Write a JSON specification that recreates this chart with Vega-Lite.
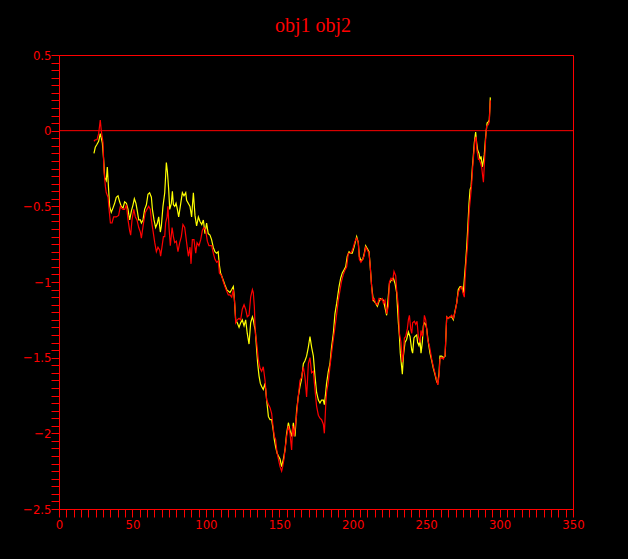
{
  "$schema": "https://vega.github.io/schema/vega-lite/v6.json",
  "width": 514,
  "height": 454,
  "autosize": "none",
  "padding": {"left": 59, "top": 55, "right": 55, "bottom": 50},
  "background": "#000000",
  "title": {"text": "obj1 obj2", "color": "#ff0000", "font": "Liberation Serif", "fontSize": 20, "fontWeight": "normal", "anchor": "middle", "baseline": "alphabetic", "offset": -3, "dx": -3},
  "datasets": {
    "obj1": [
      {"x":23.8,"y":-0.07},{"x":24.7,"y":-0.06},{"x":25.9,"y":-0.06},{"x":27.0,"y":-0.02},{"x":28.1,"y":0.07},{"x":28.8,"y":0.0},{"x":30.0,"y":-0.08},{"x":30.6,"y":-0.26},{"x":31.6,"y":-0.37},{"x":32.2,"y":-0.41},{"x":33.4,"y":-0.44},{"x":34.1,"y":-0.52},{"x":35.0,"y":-0.61},{"x":36.1,"y":-0.61},{"x":37.2,"y":-0.57},{"x":39.0,"y":-0.57},{"x":40.6,"y":-0.56},{"x":41.8,"y":-0.50},{"x":42.4,"y":-0.51},{"x":43.6,"y":-0.52},{"x":44.7,"y":-0.52},{"x":45.9,"y":-0.49},{"x":47.0,"y":-0.59},{"x":48.1,"y":-0.66},{"x":48.8,"y":-0.69},{"x":49.7,"y":-0.59},{"x":50.9,"y":-0.52},{"x":52.0,"y":-0.57},{"x":53.1,"y":-0.59},{"x":54.3,"y":-0.64},{"x":55.4,"y":-0.67},{"x":56.1,"y":-0.71},{"x":56.8,"y":-0.66},{"x":57.9,"y":-0.59},{"x":58.8,"y":-0.54},{"x":59.9,"y":-0.52},{"x":61.1,"y":-0.50},{"x":62.2,"y":-0.52},{"x":62.9,"y":-0.59},{"x":64.0,"y":-0.66},{"x":65.2,"y":-0.74},{"x":66.3,"y":-0.80},{"x":67.4,"y":-0.77},{"x":68.6,"y":-0.79},{"x":69.2,"y":-0.83},{"x":70.1,"y":-0.77},{"x":71.1,"y":-0.70},{"x":72.0,"y":-0.70},{"x":72.6,"y":-0.61},{"x":73.6,"y":-0.57},{"x":74.2,"y":-0.50},{"x":74.9,"y":-0.64},{"x":75.8,"y":-0.76},{"x":77.0,"y":-0.64},{"x":77.9,"y":-0.70},{"x":78.8,"y":-0.74},{"x":79.9,"y":-0.73},{"x":81.0,"y":-0.80},{"x":82.2,"y":-0.74},{"x":83.3,"y":-0.70},{"x":84.4,"y":-0.62},{"x":85.6,"y":-0.64},{"x":86.9,"y":-0.74},{"x":88.1,"y":-0.83},{"x":89.2,"y":-0.77},{"x":89.9,"y":-0.88},{"x":90.8,"y":-0.72},{"x":91.9,"y":-0.72},{"x":93.1,"y":-0.81},{"x":94.0,"y":-0.74},{"x":95.3,"y":-0.76},{"x":96.5,"y":-0.72},{"x":97.6,"y":-0.66},{"x":98.7,"y":-0.64},{"x":99.9,"y":-0.66},{"x":101.0,"y":-0.73},{"x":102.1,"y":-0.76},{"x":104.0,"y":-0.76},{"x":105.1,"y":-0.81},{"x":106.2,"y":-0.85},{"x":107.4,"y":-0.87},{"x":108.5,"y":-0.86},{"x":109.2,"y":-0.94},{"x":110.8,"y":-0.96},{"x":111.9,"y":-1.00},{"x":113.0,"y":-1.03},{"x":114.2,"y":-1.06},{"x":115.3,"y":-1.085},{"x":116.4,"y":-1.085},{"x":117.6,"y":-1.10},{"x":118.7,"y":-1.05},{"x":119.4,"y":-1.11},{"x":119.9,"y":-1.18},{"x":120.3,"y":-1.27},{"x":121.4,"y":-1.25},{"x":122.6,"y":-1.24},{"x":123.7,"y":-1.25},{"x":124.8,"y":-1.18},{"x":126.0,"y":-1.15},{"x":127.1,"y":-1.18},{"x":128.2,"y":-1.23},{"x":129.4,"y":-1.22},{"x":130.5,"y":-1.10},{"x":131.7,"y":-1.05},{"x":132.3,"y":-1.07},{"x":133.0,"y":-1.16},{"x":133.7,"y":-1.34},{"x":134.6,"y":-1.40},{"x":135.7,"y":-1.51},{"x":136.9,"y":-1.57},{"x":138.0,"y":-1.59},{"x":139.1,"y":-1.56},{"x":140.3,"y":-1.65},{"x":141.4,"y":-1.78},{"x":142.6,"y":-1.81},{"x":143.7,"y":-1.83},{"x":144.8,"y":-1.87},{"x":145.7,"y":-1.95},{"x":146.6,"y":-2.02},{"x":147.5,"y":-2.04},{"x":148.5,"y":-2.13},{"x":149.4,"y":-2.17},{"x":150.5,"y":-2.22},{"x":151.6,"y":-2.25},{"x":152.3,"y":-2.22},{"x":153.2,"y":-2.17},{"x":153.9,"y":-2.11},{"x":155.0,"y":-2.02},{"x":156.2,"y":-1.95},{"x":157.3,"y":-2.00},{"x":158.4,"y":-2.11},{"x":159.1,"y":-1.95},{"x":160.0,"y":-2.02},{"x":161.8,"y":-1.88},{"x":162.9,"y":-1.76},{"x":164.1,"y":-1.65},{"x":165.2,"y":-1.63},{"x":166.4,"y":-1.56},{"x":167.5,"y":-1.63},{"x":168.6,"y":-1.76},{"x":169.8,"y":-1.54},{"x":170.9,"y":-1.50},{"x":172.0,"y":-1.60},{"x":173.2,"y":-1.59},{"x":174.3,"y":-1.71},{"x":175.4,"y":-1.82},{"x":176.6,"y":-1.88},{"x":177.7,"y":-1.90},{"x":178.8,"y":-1.91},{"x":180.0,"y":-1.94},{"x":180.7,"y":-2.00},{"x":181.6,"y":-1.82},{"x":182.2,"y":-1.73},{"x":183.4,"y":-1.66},{"x":184.5,"y":-1.56},{"x":185.6,"y":-1.47},{"x":186.8,"y":-1.38},{"x":187.9,"y":-1.30},{"x":189.1,"y":-1.21},{"x":190.2,"y":-1.12},{"x":191.4,"y":-1.05},{"x":192.5,"y":-0.99},{"x":193.6,"y":-0.95},{"x":194.8,"y":-0.92},{"x":195.9,"y":-0.90},{"x":197.0,"y":-0.81},{"x":198.2,"y":-0.81},{"x":199.3,"y":-0.80},{"x":200.4,"y":-0.77},{"x":201.6,"y":-0.73},{"x":202.7,"y":-0.71},{"x":203.8,"y":-0.74},{"x":204.5,"y":-0.85},{"x":205.6,"y":-0.87},{"x":206.8,"y":-0.85},{"x":207.7,"y":-0.83},{"x":208.8,"y":-0.77},{"x":210.0,"y":-0.79},{"x":211.1,"y":-0.81},{"x":211.8,"y":-0.88},{"x":212.9,"y":-1.03},{"x":213.6,"y":-1.12},{"x":214.7,"y":-1.11},{"x":215.6,"y":-1.14},{"x":216.8,"y":-1.15},{"x":217.9,"y":-1.11},{"x":219.0,"y":-1.12},{"x":220.2,"y":-1.11},{"x":220.9,"y":-1.14},{"x":222.0,"y":-1.12},{"x":223.1,"y":-1.21},{"x":224.3,"y":-1.16},{"x":225.0,"y":-1.00},{"x":226.1,"y":-0.975},{"x":227.2,"y":-0.99},{"x":228.1,"y":-0.93},{"x":229.3,"y":-0.96},{"x":229.9,"y":-1.05},{"x":231.1,"y":-1.16},{"x":231.8,"y":-1.34},{"x":232.9,"y":-1.40},{"x":233.8,"y":-1.53},{"x":234.5,"y":-1.47},{"x":235.2,"y":-1.37},{"x":236.1,"y":-1.36},{"x":237.2,"y":-1.31},{"x":237.9,"y":-1.25},{"x":238.6,"y":-1.22},{"x":239.5,"y":-1.31},{"x":240.2,"y":-1.34},{"x":240.8,"y":-1.27},{"x":242.0,"y":-1.26},{"x":242.9,"y":-1.28},{"x":243.8,"y":-1.26},{"x":244.7,"y":-1.36},{"x":245.8,"y":-1.40},{"x":246.5,"y":-1.32},{"x":247.4,"y":-1.36},{"x":248.1,"y":-1.32},{"x":248.8,"y":-1.22},{"x":249.7,"y":-1.25},{"x":250.4,"y":-1.31},{"x":251.0,"y":-1.38},{"x":252.2,"y":-1.42},{"x":253.1,"y":-1.47},{"x":253.8,"y":-1.51},{"x":254.9,"y":-1.56},{"x":256.0,"y":-1.60},{"x":257.2,"y":-1.65},{"x":257.9,"y":-1.68},{"x":258.8,"y":-1.62},{"x":259.4,"y":-1.51},{"x":260.6,"y":-1.50},{"x":261.7,"y":-1.51},{"x":262.9,"y":-1.48},{"x":263.5,"y":-1.35},{"x":264.0,"y":-1.23},{"x":265.1,"y":-1.24},{"x":266.3,"y":-1.23},{"x":267.4,"y":-1.22},{"x":268.5,"y":-1.24},{"x":269.7,"y":-1.20},{"x":270.8,"y":-1.14},{"x":271.9,"y":-1.07},{"x":273.1,"y":-1.04},{"x":274.2,"y":-1.03},{"x":275.3,"y":-1.08},{"x":276.0,"y":-1.10},{"x":276.5,"y":-0.98},{"x":277.2,"y":-0.87},{"x":278.1,"y":-0.77},{"x":278.7,"y":-0.65},{"x":279.4,"y":-0.52},{"x":280.3,"y":-0.43},{"x":281.0,"y":-0.35},{"x":281.7,"y":-0.24},{"x":282.6,"y":-0.13},{"x":283.3,"y":-0.06},{"x":284.0,"y":-0.04},{"x":284.6,"y":-0.13},{"x":285.6,"y":-0.19},{"x":286.2,"y":-0.19},{"x":286.9,"y":-0.21},{"x":287.8,"y":-0.24},{"x":288.5,"y":-0.30},{"x":289.0,"y":-0.34},{"x":289.6,"y":-0.23},{"x":290.5,"y":-0.06},{"x":291.2,"y":0.03},{"x":292.4,"y":0.04},{"x":293.0,"y":0.06},{"x":293.7,"y":0.20}
    ],
    "obj2": [
      {"x":23.8,"y":-0.15},{"x":24.7,"y":-0.11},{"x":25.9,"y":-0.09},{"x":27.0,"y":-0.07},{"x":28.1,"y":-0.02},{"x":28.8,"y":-0.05},{"x":29.5,"y":-0.08},{"x":30.4,"y":-0.19},{"x":31.1,"y":-0.31},{"x":32.2,"y":-0.33},{"x":32.9,"y":-0.24},{"x":33.8,"y":-0.39},{"x":34.5,"y":-0.50},{"x":35.6,"y":-0.54},{"x":36.8,"y":-0.51},{"x":37.9,"y":-0.48},{"x":39.0,"y":-0.44},{"x":40.2,"y":-0.43},{"x":41.3,"y":-0.47},{"x":42.4,"y":-0.50},{"x":43.6,"y":-0.51},{"x":44.7,"y":-0.47},{"x":45.9,"y":-0.48},{"x":47.0,"y":-0.52},{"x":48.1,"y":-0.59},{"x":49.3,"y":-0.53},{"x":50.4,"y":-0.49},{"x":51.3,"y":-0.45},{"x":52.4,"y":-0.48},{"x":53.3,"y":-0.53},{"x":54.3,"y":-0.59},{"x":55.4,"y":-0.59},{"x":56.1,"y":-0.61},{"x":57.2,"y":-0.59},{"x":58.3,"y":-0.52},{"x":59.5,"y":-0.49},{"x":60.6,"y":-0.42},{"x":61.7,"y":-0.41},{"x":62.9,"y":-0.44},{"x":63.6,"y":-0.52},{"x":64.7,"y":-0.59},{"x":65.8,"y":-0.64},{"x":67.0,"y":-0.61},{"x":67.9,"y":-0.57},{"x":69.0,"y":-0.67},{"x":69.7,"y":-0.63},{"x":70.8,"y":-0.50},{"x":72.0,"y":-0.41},{"x":73.1,"y":-0.21},{"x":73.8,"y":-0.27},{"x":74.7,"y":-0.39},{"x":75.4,"y":-0.52},{"x":76.5,"y":-0.48},{"x":77.2,"y":-0.40},{"x":77.9,"y":-0.49},{"x":78.8,"y":-0.50},{"x":79.7,"y":-0.48},{"x":80.6,"y":-0.52},{"x":81.5,"y":-0.57},{"x":82.9,"y":-0.48},{"x":84.0,"y":-0.41},{"x":85.1,"y":-0.43},{"x":86.3,"y":-0.41},{"x":86.9,"y":-0.46},{"x":89.2,"y":-0.50},{"x":90.3,"y":-0.57},{"x":91.5,"y":-0.41},{"x":92.6,"y":-0.56},{"x":93.7,"y":-0.63},{"x":94.9,"y":-0.57},{"x":96.0,"y":-0.60},{"x":97.2,"y":-0.62},{"x":98.3,"y":-0.59},{"x":99.4,"y":-0.68},{"x":100.5,"y":-0.61},{"x":101.6,"y":-0.68},{"x":102.8,"y":-0.69},{"x":103.9,"y":-0.72},{"x":105.0,"y":-0.77},{"x":106.2,"y":-0.80},{"x":107.3,"y":-0.81},{"x":108.4,"y":-0.80},{"x":109.1,"y":-0.88},{"x":110.0,"y":-0.94},{"x":110.8,"y":-0.96},{"x":111.9,"y":-0.99},{"x":113.0,"y":-1.02},{"x":114.2,"y":-1.05},{"x":115.3,"y":-1.06},{"x":116.4,"y":-1.07},{"x":117.6,"y":-1.05},{"x":118.7,"y":-1.03},{"x":119.4,"y":-1.11},{"x":120.3,"y":-1.25},{"x":121.4,"y":-1.27},{"x":122.6,"y":-1.30},{"x":123.7,"y":-1.27},{"x":124.8,"y":-1.25},{"x":126.0,"y":-1.29},{"x":127.1,"y":-1.25},{"x":128.2,"y":-1.34},{"x":129.4,"y":-1.41},{"x":130.5,"y":-1.27},{"x":131.7,"y":-1.23},{"x":132.3,"y":-1.25},{"x":133.0,"y":-1.29},{"x":133.7,"y":-1.32},{"x":134.6,"y":-1.45},{"x":135.3,"y":-1.54},{"x":136.2,"y":-1.62},{"x":137.1,"y":-1.67},{"x":138.0,"y":-1.69},{"x":139.1,"y":-1.71},{"x":140.3,"y":-1.67},{"x":141.4,"y":-1.78},{"x":142.6,"y":-1.89},{"x":143.7,"y":-1.91},{"x":144.8,"y":-1.91},{"x":145.9,"y":-1.98},{"x":146.6,"y":-2.04},{"x":147.5,"y":-2.09},{"x":148.5,"y":-2.13},{"x":149.4,"y":-2.15},{"x":150.5,"y":-2.17},{"x":151.6,"y":-2.22},{"x":152.8,"y":-2.17},{"x":153.9,"y":-2.11},{"x":155.0,"y":-2.00},{"x":156.2,"y":-1.93},{"x":157.3,"y":-1.98},{"x":158.4,"y":-2.02},{"x":159.6,"y":-1.93},{"x":160.7,"y":-2.02},{"x":161.8,"y":-1.85},{"x":162.9,"y":-1.76},{"x":164.1,"y":-1.69},{"x":165.2,"y":-1.64},{"x":166.4,"y":-1.54},{"x":167.5,"y":-1.52},{"x":168.6,"y":-1.49},{"x":169.8,"y":-1.43},{"x":170.9,"y":-1.36},{"x":172.0,"y":-1.43},{"x":173.2,"y":-1.49},{"x":174.3,"y":-1.62},{"x":175.4,"y":-1.73},{"x":176.6,"y":-1.78},{"x":177.7,"y":-1.80},{"x":178.8,"y":-1.78},{"x":180.0,"y":-1.78},{"x":180.7,"y":-1.81},{"x":181.6,"y":-1.73},{"x":182.2,"y":-1.67},{"x":183.4,"y":-1.59},{"x":184.5,"y":-1.54},{"x":185.6,"y":-1.43},{"x":186.8,"y":-1.34},{"x":187.9,"y":-1.21},{"x":189.1,"y":-1.14},{"x":190.7,"y":-1.03},{"x":191.8,"y":-0.975},{"x":192.9,"y":-0.94},{"x":194.1,"y":-0.92},{"x":195.2,"y":-0.90},{"x":196.3,"y":-0.83},{"x":197.5,"y":-0.80},{"x":198.6,"y":-0.81},{"x":199.7,"y":-0.81},{"x":200.9,"y":-0.77},{"x":202.7,"y":-0.70},{"x":203.8,"y":-0.74},{"x":204.5,"y":-0.83},{"x":205.6,"y":-0.86},{"x":206.8,"y":-0.85},{"x":207.7,"y":-0.82},{"x":208.8,"y":-0.76},{"x":210.0,"y":-0.78},{"x":211.1,"y":-0.80},{"x":211.8,"y":-0.88},{"x":212.9,"y":-1.03},{"x":214.0,"y":-1.12},{"x":215.6,"y":-1.14},{"x":216.8,"y":-1.16},{"x":218.6,"y":-1.11},{"x":220.9,"y":-1.12},{"x":223.1,"y":-1.22},{"x":225.0,"y":-1.01},{"x":226.1,"y":-0.99},{"x":227.7,"y":-0.975},{"x":228.8,"y":-1.01},{"x":229.9,"y":-1.07},{"x":231.1,"y":-1.27},{"x":231.8,"y":-1.36},{"x":232.4,"y":-1.47},{"x":233.3,"y":-1.56},{"x":233.8,"y":-1.61},{"x":234.5,"y":-1.49},{"x":235.6,"y":-1.40},{"x":236.7,"y":-1.38},{"x":237.9,"y":-1.33},{"x":239.0,"y":-1.36},{"x":240.2,"y":-1.45},{"x":240.8,"y":-1.47},{"x":241.7,"y":-1.37},{"x":242.4,"y":-1.36},{"x":243.6,"y":-1.35},{"x":244.2,"y":-1.40},{"x":245.1,"y":-1.42},{"x":245.8,"y":-1.38},{"x":246.5,"y":-1.47},{"x":247.4,"y":-1.40},{"x":248.1,"y":-1.29},{"x":248.8,"y":-1.27},{"x":249.7,"y":-1.28},{"x":250.4,"y":-1.31},{"x":251.5,"y":-1.40},{"x":252.6,"y":-1.47},{"x":253.8,"y":-1.52},{"x":254.9,"y":-1.57},{"x":256.0,"y":-1.61},{"x":257.2,"y":-1.66},{"x":257.9,"y":-1.67},{"x":258.8,"y":-1.60},{"x":259.4,"y":-1.49},{"x":260.6,"y":-1.49},{"x":261.7,"y":-1.50},{"x":262.9,"y":-1.49},{"x":264.0,"y":-1.23},{"x":265.1,"y":-1.24},{"x":266.3,"y":-1.23},{"x":267.4,"y":-1.23},{"x":268.5,"y":-1.25},{"x":269.7,"y":-1.19},{"x":270.8,"y":-1.14},{"x":271.9,"y":-1.05},{"x":273.1,"y":-1.03},{"x":274.2,"y":-1.03},{"x":275.3,"y":-1.07},{"x":276.0,"y":-0.98},{"x":276.9,"y":-0.87},{"x":277.6,"y":-0.77},{"x":278.3,"y":-0.65},{"x":279.2,"y":-0.48},{"x":279.9,"y":-0.39},{"x":280.6,"y":-0.37},{"x":281.5,"y":-0.24},{"x":282.1,"y":-0.17},{"x":282.8,"y":-0.08},{"x":283.7,"y":-0.01},{"x":284.4,"y":-0.08},{"x":285.1,"y":-0.13},{"x":286.0,"y":-0.15},{"x":286.7,"y":-0.19},{"x":287.4,"y":-0.17},{"x":288.3,"y":-0.24},{"x":289.0,"y":-0.20},{"x":289.6,"y":-0.16},{"x":290.5,"y":-0.04},{"x":291.5,"y":0.05},{"x":292.4,"y":0.06},{"x":293.0,"y":0.07},{"x":293.7,"y":0.22}
    ]
  },
  "config": {
    "view": {"stroke": "#ff0000", "strokeWidth": 1},
    "axis": {"domainColor": "#ff0000", "tickColor": "#ff0000", "labelColor": "#ff0000", "grid": false, "labelFont": "Liberation Sans Narrow, DejaVu Sans Condensed, Liberation Sans", "labelFontSize": 13, "labelFontWeight": "normal", "tickWidth": 1, "domainWidth": 1, "labelOverlap": false, "labelFlush": false}
  },
  "resolve": {"axis": {"x": "independent", "y": "independent"}},
  "layer": [
    {
      "data": {"values": [{"zero": 0}]},
      "mark": {"type": "rule", "color": "#ff0000", "strokeWidth": 1},
      "encoding": {
        "y": {"field": "zero", "type": "quantitative", "axis": null, "scale": {"domain": [-2.5, 0.5], "nice": false, "zero": false}}
      }
    },
    {
      "data": {"name": "obj2"},
      "mark": {"type": "line", "color": "#ffff00", "strokeWidth": 1.2},
      "encoding": {
        "x": {"field": "x", "type": "quantitative", "scale": {"domain": [0, 350], "nice": false, "zero": false},
          "axis": {"title": null, "orient": "bottom", "values": [0,5,10,15,20,25,30,35,40,45,50,55,60,65,70,75,80,85,90,95,100,105,110,115,120,125,130,135,140,145,150,155,160,165,170,175,180,185,190,195,200,205,210,215,220,225,230,235,240,245,250,255,260,265,270,275,280,285,290,295,300,305,310,315,320,325,330,335,340,345,350],
            "labelExpr": "datum.value % 50 === 0 ? format(datum.value, 'd') : ''",
            "tickSize": 8,
            "labelPadding": 1,
            "encode": {"ticks": {"update": {"y2": {"signal": "datum.value % 50 === 0 ? 8 : (datum.value % 25 === 0 ? 6 : 4)"}}}}}},
        "y": {"field": "y", "type": "quantitative", "scale": {"domain": [-2.5, 0.5], "nice": false, "zero": false},
          "axis": {"title": null, "orient": "left", "values": [-2.5,-2.45,-2.4,-2.35,-2.3,-2.25,-2.2,-2.15,-2.1,-2.05,-2,-1.95,-1.9,-1.85,-1.8,-1.75,-1.7,-1.65,-1.6,-1.55,-1.5,-1.45,-1.4,-1.35,-1.3,-1.25,-1.2,-1.15,-1.1,-1.05,-1,-0.95,-0.9,-0.85,-0.8,-0.75,-0.7,-0.65,-0.6,-0.55,-0.5,-0.45,-0.4,-0.35,-0.3,-0.25,-0.2,-0.15,-0.1,-0.05,0,0.05,0.1,0.15,0.2,0.25,0.3,0.35,0.4,0.45,0.5],
            "labelExpr": "abs(round(datum.value * 20)) % 10 === 0 ? format(datum.value, '~g') : ''",
            "tickSize": 8,
            "labelPadding": 0,
            "encode": {"ticks": {"update": {"x2": {"signal": "abs(round(datum.value * 20)) % 10 === 0 ? -8 : (abs(round(datum.value * 20)) % 5 === 0 ? -6 : -4)"}}}}}}
      }
    },
    {
      "data": {"name": "obj1"},
      "mark": {"type": "line", "color": "#ff0000", "strokeWidth": 1.2},
      "encoding": {
        "x": {"field": "x", "type": "quantitative", "axis": null, "scale": {"domain": [0, 350], "nice": false, "zero": false}},
        "y": {"field": "y", "type": "quantitative", "axis": null, "scale": {"domain": [-2.5, 0.5], "nice": false, "zero": false}}
      }
    }
  ]
}
